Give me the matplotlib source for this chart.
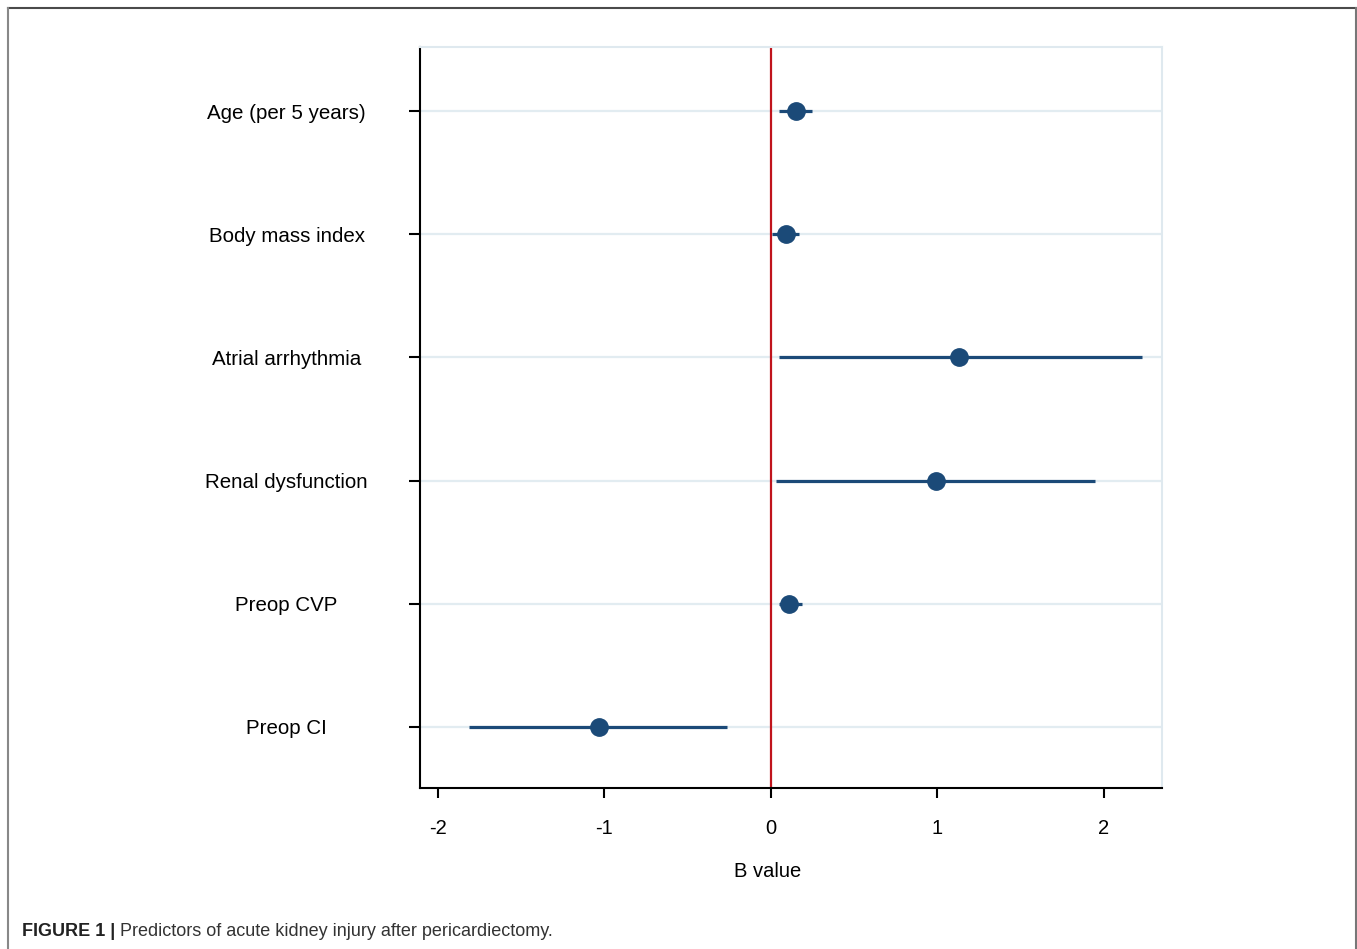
import matplotlib.pyplot as plt
from matplotlib.lines import Line2D

plt.rcParams['font.family'] = ['Liberation Sans', 'DejaVu Sans']

# 数据
labels = ["Age (per 5 years)", "Body mass index", "Atrial arrhythmia",
          "Renal dysfunction", "Preop CVP", "Preop CI"]
b_value = [0.15, 0.09, 1.13, 0.99, 0.11, -1.03]
ci_low = [0.05, 0.01, 0.05, 0.03, 0.05, -1.81]
ci_high = [0.25, 0.17, 2.23, 1.95, 0.19, -0.26]
x_ticks = [-2, -1, 0, 1, 2]

pos = list(range(1, len(labels) + 1))
dot_color = "#1b4a78"

fig = plt.figure(figsize=(13.57, 9.49), dpi=100)
ax = fig.add_axes([0.3095, 0.1697, 0.5468, 0.7808])

# 网格
for p in pos:
    ax.axhline(p, color="#e2ecf1", linewidth=1.6, zorder=0)

# 置信区间 + 点
for p, b, lo, hi in zip(pos, b_value, ci_low, ci_high):
    ax.plot([lo, hi], [p, p], color=dot_color, linewidth=2.3, solid_capstyle="butt", zorder=2)
ax.plot(b_value, pos, "o", color=dot_color, markersize=12.5, zorder=3)

ax.axvline(0, color="#c0141c", linewidth=1.6, zorder=1)

ax.set_xlim(-2.106, 2.35)
ax.set_ylim(6.495, 0.48)
ax.set_xticks(x_ticks)
ax.set_xticklabels([str(v) for v in x_ticks])
ax.set_yticks(pos)
ax.set_yticklabels(labels, ha="center")

ax.tick_params(axis="y", length=8, width=1.5, pad=88, labelsize=14.8, colors="black")
ax.tick_params(axis="x", length=7.5, width=1.5, pad=15, labelsize=14.5)
ax.set_xlabel("B value", fontsize=14.5)
ax.xaxis.set_label_coords(0.469, -0.1)

for side in ["left", "bottom"]:
    ax.spines[side].set_linewidth(1.5)
    ax.spines[side].set_color("black")
for side in ["top", "right"]:
    ax.spines[side].set_linewidth(1.5)
    ax.spines[side].set_color("#dfe9ef")

# 外框
fig.add_artist(Line2D([8 / 1357, 1356 / 1357], [1 - 8 / 949, 1 - 8 / 949], color="#4a4a4a", linewidth=1.5))
fig.add_artist(Line2D([8 / 1357, 8 / 1357], [0, 1 - 8 / 949], color="#888888", linewidth=1.5))
fig.add_artist(Line2D([1356 / 1357, 1356 / 1357], [0, 1 - 8 / 949], color="#777777", linewidth=1.5))

# 图注
t = fig.text(22 / 1357, 1 - 931 / 949, "FIGURE 1 |", fontsize=13, fontweight="bold",
             color="#222222", va="center", ha="left")
fig.canvas.draw()
bb = t.get_window_extent()
fig.text((bb.x1 + 5) / 1357, 1 - 931 / 949, "Predictors of acute kidney injury after pericardiectomy.",
         fontsize=13, color="#333333", va="center", ha="left")

fig.savefig("out.png", dpi=100)
